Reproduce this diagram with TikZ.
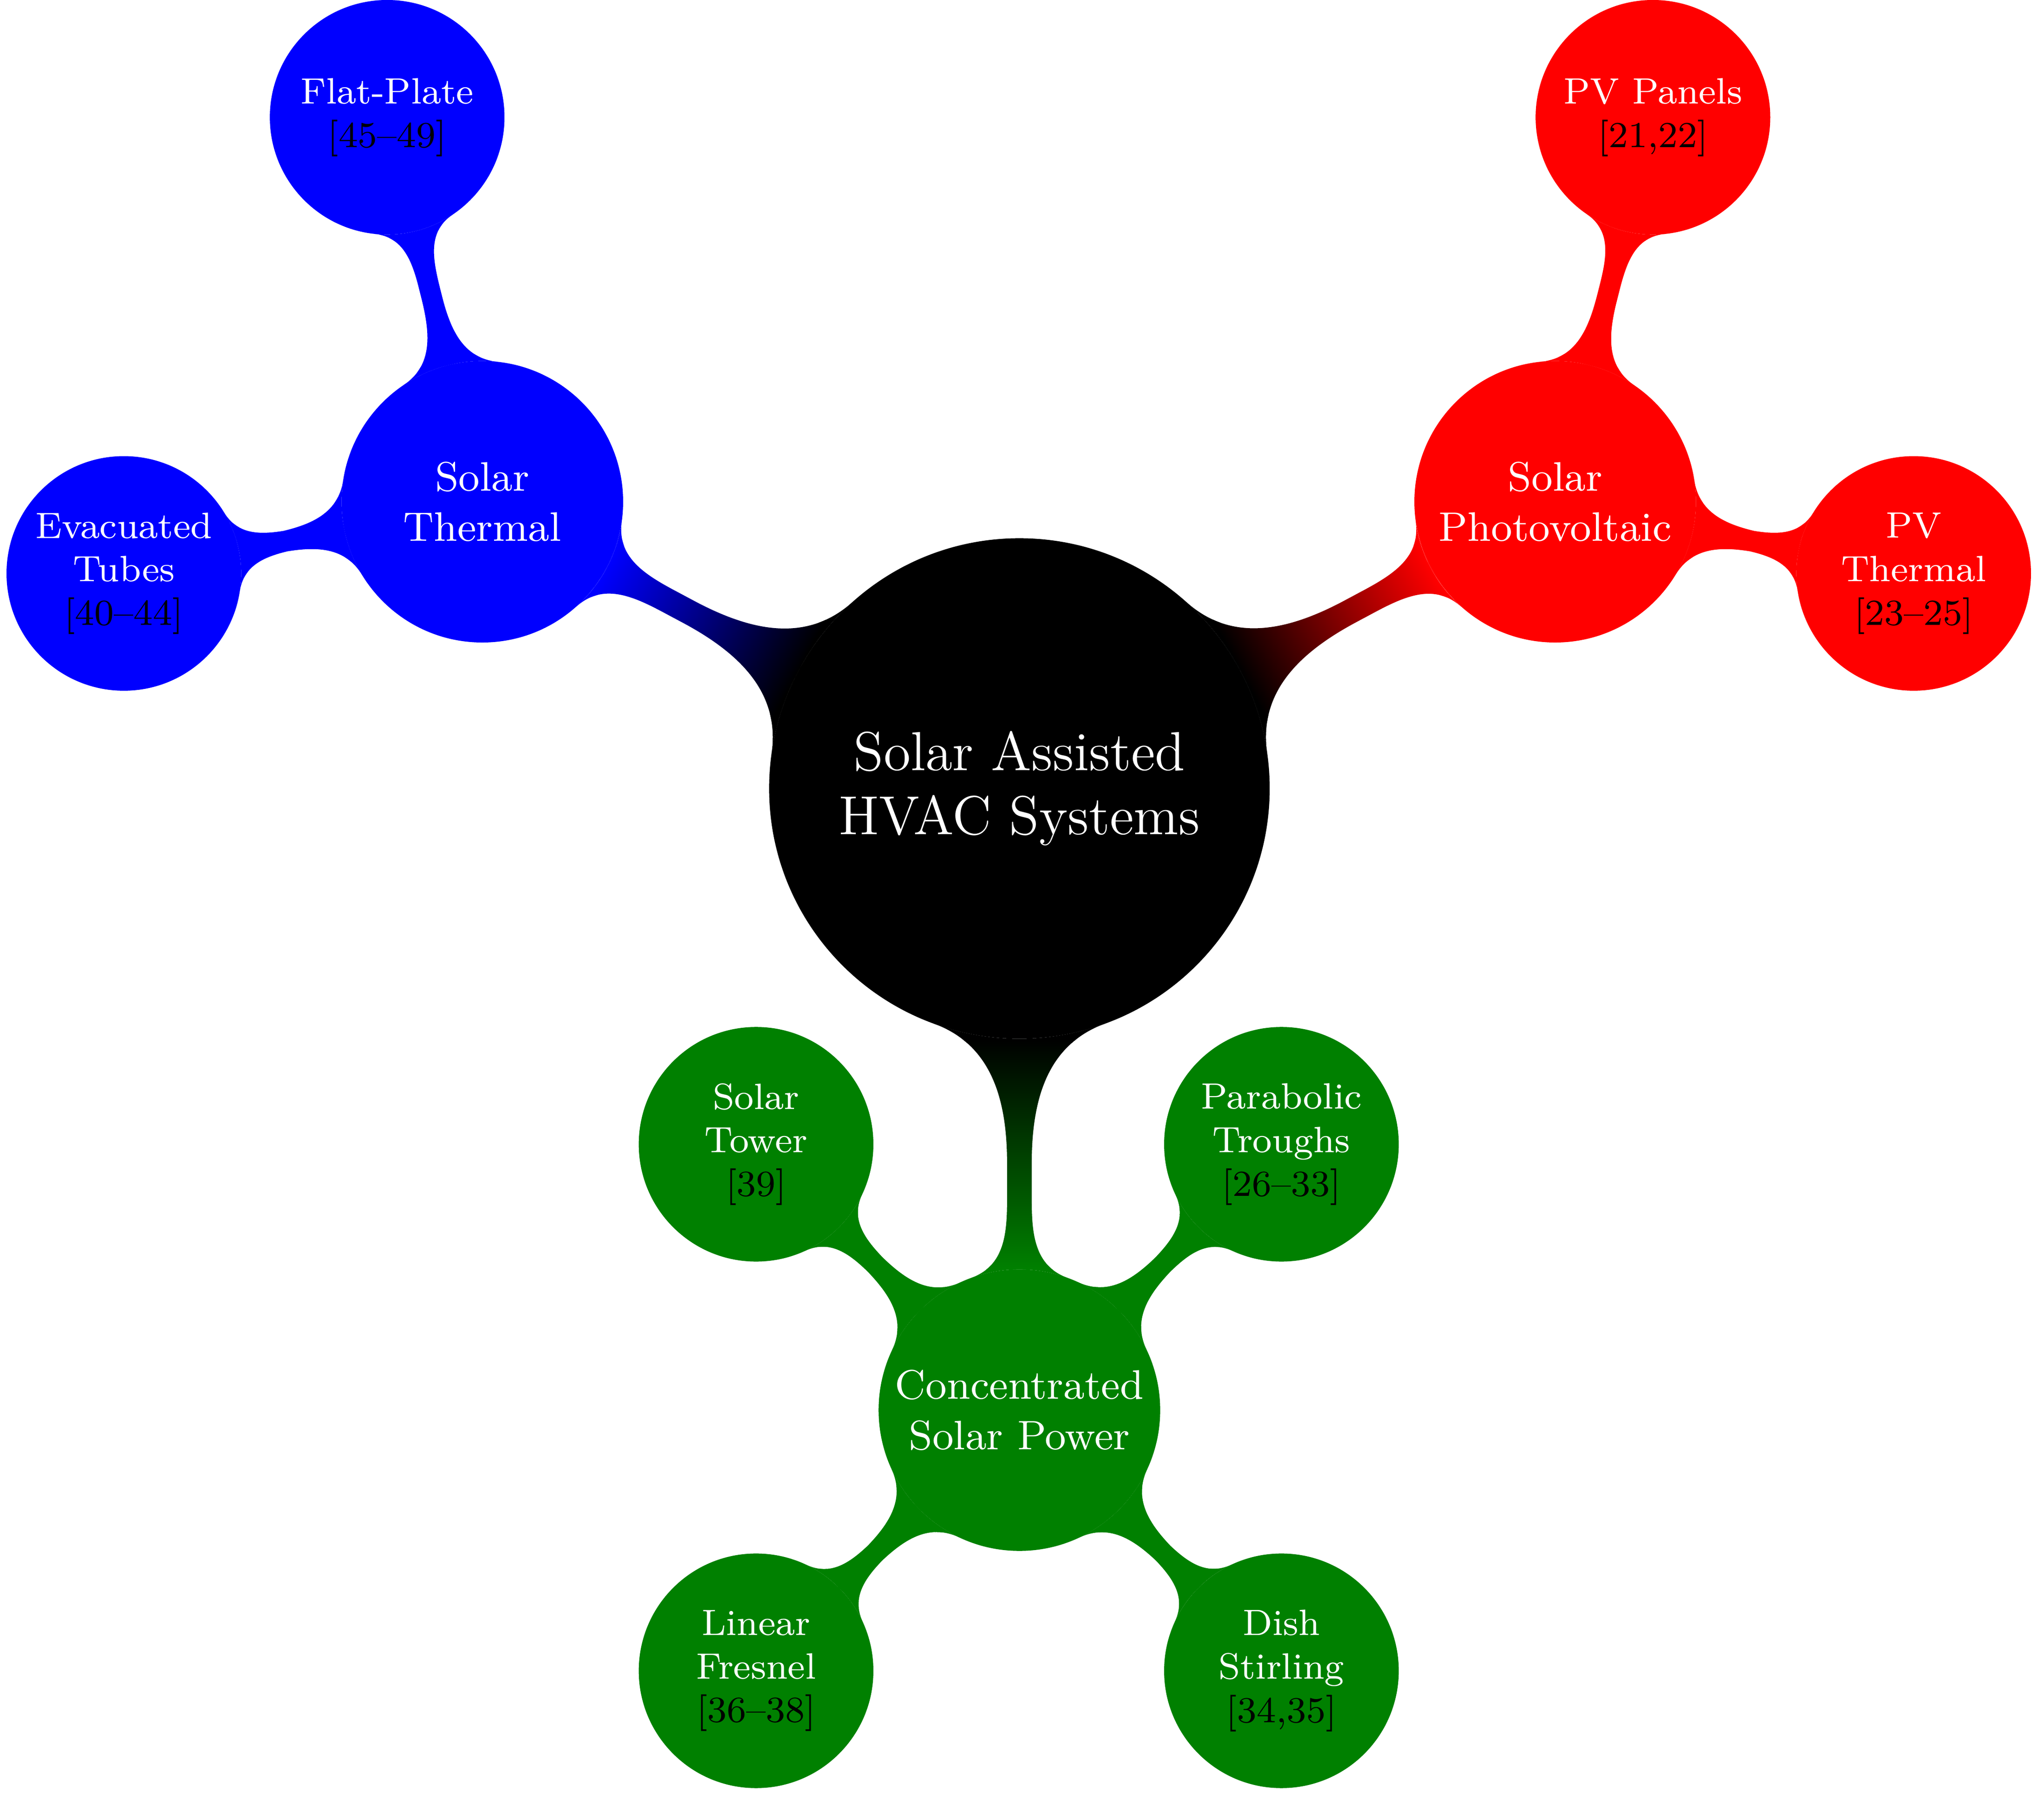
\documentclass[tikz,border=0pt]{standalone}
\usetikzlibrary{mindmap}
\definecolor{cspgreen}{RGB}{0,128,0}
\tikzset{
  hub/.style={concept, circle, draw=none, minimum size=3.84cm, text width=, font=\large, text=white, align=center, inner sep=0pt},
  branch/.style={concept, circle, draw=none, minimum size=2.16cm, text width=, font=\small, text=white, align=center, inner sep=0pt},
  leaf/.style={concept, circle, draw=none, minimum size=1.8cm, text width=, font=\footnotesize, text=white, align=center, inner sep=0pt},
  bar/.style 2 args={circle connection bar switch color=from (#1) to (#2)}
}
\newcommand{\refs}[1]{\\\textcolor{black}{#1}}
\begin{document}
\begin{tikzpicture}[mindmap]
  \useasboundingbox (0,0) rectangle (15.68,-13.84);
  % main concepts
  \node [hub, fill=black] (hvac) at (7.82,-6.05) {Solar Assisted\\HVAC Systems};
  \node [branch, fill=blue] (thermal) at (3.70,-3.85) {Solar\\Thermal};
  \node [branch, fill=red] (pv) at (11.93,-3.85) {Solar\\Photovoltaic};
  \node [branch, fill=cspgreen] (csp) at (7.82,-10.82) {Concentrated\\Solar Power};
  % leaves
  \node [leaf, fill=blue] (flat) at (2.97,-0.90) {Flat-Plate\refs{[45--49]}};
  \node [leaf, fill=blue] (tubes) at (0.95,-4.40) {Evacuated\\Tubes\refs{[40--44]}};
  \node [leaf, fill=red] (panels) at (12.68,-0.90) {PV Panels\refs{[21,22]}};
  \node [leaf, fill=red] (pvt) at (14.68,-4.40) {PV\\Thermal\refs{[23--25]}};
  \node [leaf, fill=cspgreen] (tower) at (5.80,-8.78) {Solar\\Tower\refs{[39]}};
  \node [leaf, fill=cspgreen] (trough) at (9.83,-8.78) {Parabolic\\Troughs\refs{[26--33]}};
  \node [leaf, fill=cspgreen] (fresnel) at (5.80,-12.82) {Linear\\Fresnel\refs{[36--38]}};
  \node [leaf, fill=cspgreen] (dish) at (9.83,-12.82) {Dish\\Stirling\refs{[34,35]}};
  % connections
  \path (hvac) to [bar={black}{blue}] (thermal);
  \path (hvac) to [bar={black}{red}] (pv);
  \path (hvac) to [bar={black}{cspgreen}] (csp);
  \path (thermal) to [bar={blue}{blue}] (flat);
  \path (thermal) to [bar={blue}{blue}] (tubes);
  \path (pv) to [bar={red}{red}] (panels);
  \path (pv) to [bar={red}{red}] (pvt);
  \foreach \leafname in {tower,trough,fresnel,dish}
    \path (csp) to [bar={cspgreen}{cspgreen}] (\leafname);
\end{tikzpicture}
\end{document}
